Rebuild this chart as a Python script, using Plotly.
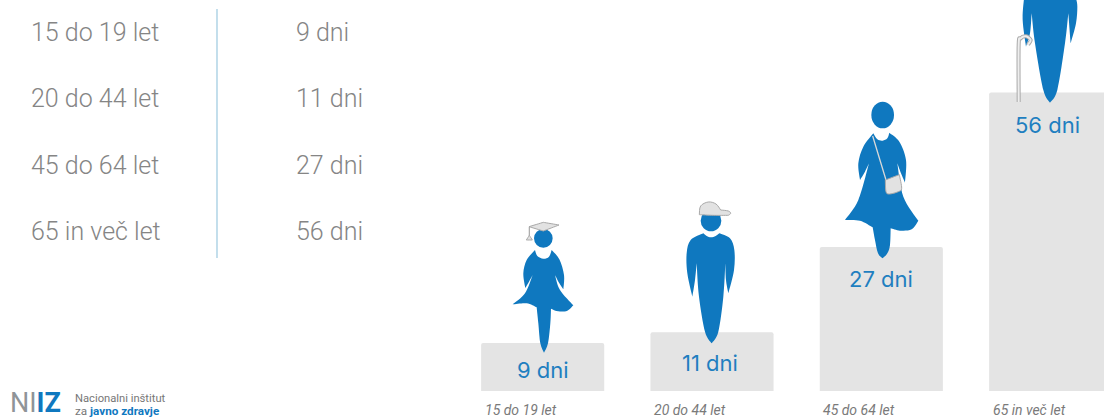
import plotly.graph_objects as go

# ---- data ----
age_groups = ["15 do 19 let", "20 do 44 let", "45 do 64 let", "65 in več let"]
table_ages = ["15 do 19 let", "20 do 44 let", "45 do 64 let", "65 in več let"]
days = [9, 11, 27, 56]
day_labels = ["9 dni", "11 dni", "27 dni", "56 dni"]

W, H = 1104, 417
BLUE = "#0f78bf"
TXT_BLUE = "#1f7fc0"
GREY_BAR = "#e4e4e4"
TABLE_GREY = "#858585"
ACC_FILL = "#e2e2e2"
ACC_LINE = "#a9a9a9"


def px(x, y):
    return x / W, 1 - y / H


def smooth(runs, ox, oy, s=1 / 3, close=True):
    """runs: smooth point runs sharing corner endpoints; returns SVG path in paper coords."""
    def fmt(p):
        x, y = px(ox + p[0] * s, oy + p[1] * s)
        return f"{x:.5f},{y:.5f}"
    d = "M" + fmt(runs[0][0])
    for run in runs:
        n = len(run)
        for i in range(n - 1):
            p0 = run[i - 1] if i > 0 else run[i]
            p1, p2 = run[i], run[i + 1]
            p3 = run[i + 2] if i + 2 < n else run[i + 1]
            c1 = (p1[0] + (p2[0] - p0[0]) / 6, p1[1] + (p2[1] - p0[1]) / 6)
            c2 = (p2[0] - (p3[0] - p1[0]) / 6, p2[1] - (p3[1] - p1[1]) / 6)
            d += f" C{fmt(c1)} {fmt(c2)} {fmt(p2)}"
    return d + (" Z" if close else "")


shapes = []


def fill_path(runs, ox, oy, color=BLUE, line=None, width=0):
    shapes.append(dict(type="path", xref="paper", yref="paper", path=smooth(runs, ox, oy),
                       fillcolor=color, line=dict(color=line or color, width=width)))


def stroke_path(runs, ox, oy, color, width):
    shapes.append(dict(type="path", xref="paper", yref="paper", path=smooth(runs, ox, oy, close=False),
                       line=dict(color=color, width=width)))


def head(cx, cy, rx, ry, ox, oy):
    x0, y1 = px(ox + (cx - rx) / 3, oy + (cy - ry) / 3)
    x1, y0 = px(ox + (cx + rx) / 3, oy + (cy + ry) / 3)
    shapes.append(dict(type="circle", xref="paper", yref="paper", x0=x0, x1=x1, y0=y0, y1=y1,
                       fillcolor=BLUE, line=dict(width=0)))


# Girl with graduation cap (coordinates of a 3x drawing grid)
ox, oy = 480, 200
head(190, 115, 28, 28, ox, oy)
fill_path([
    [(165, 150), (172, 168), (190, 176), (207, 170), (215, 150)],
    [(215, 150), (238, 178), (252, 225), (250, 268)],
    [(250, 268), (238, 250), (225, 225)],
    [(225, 225), (240, 270), (280, 316)],
    [(280, 316), (262, 332), (235, 334), (213, 326)],
    [(213, 326), (211, 370), (204, 430), (192, 458)],
    [(192, 458), (181, 430), (175, 370), (170, 322)],
    [(170, 322), (140, 310), (98, 313)],
    [(98, 313), (135, 280), (158, 225)],
    [(158, 225), (147, 245), (136, 264)],
    [(136, 264), (130, 220), (140, 180), (165, 150)],
], ox, oy)
fill_path([[(147, 80), (190, 67)], [(190, 67), (237, 75)], [(237, 75), (190, 93)], [(190, 93), (147, 80)]],
          ox, oy, ACC_FILL, ACC_LINE, 1)
stroke_path([[(148, 80), (148, 108)]], ox, oy, ACC_LINE, 1.2)
fill_path([[(148, 106), (157, 120)], [(157, 120), (139, 120)], [(139, 120), (148, 106)]], ox, oy, ACC_FILL, ACC_LINE, 1)

# Man with cap
head(693, 62, 31, 32, ox, oy)
fill_path([
    [(670, 100), (680, 108), (693, 112), (707, 108), (718, 100)],
    [(718, 100), (750, 115), (763, 150), (762, 210), (745, 280)],
    [(745, 280), (738, 240), (736, 190)],
    [(736, 190), (730, 290), (715, 395), (695, 430)],
    [(695, 430), (675, 395), (657, 290), (650, 190)],
    [(650, 190), (645, 240), (637, 290)],
    [(637, 290), (622, 220), (620, 160), (632, 120), (670, 100)],
], ox, oy)
fill_path([
    [(658, 44), (662, 18), (685, 6), (708, 12), (722, 30)],
    [(722, 30), (745, 33), (752, 40), (745, 46)],
    [(745, 46), (700, 46), (658, 44)],
], ox, oy, ACC_FILL, ACC_LINE, 1)

# Woman with shoulder bag
ox, oy = 800, 0
head(248, 345, 34, 40, ox, oy)
fill_path([
    [(220, 400), (232, 418), (248, 422), (262, 415), (268, 398)],
    [(268, 398), (298, 425), (318, 480), (315, 548)],
    [(315, 548), (303, 520), (292, 490)],
    [(292, 490), (310, 590), (355, 662)],
    [(355, 662), (335, 688), (300, 692), (272, 685)],
    [(272, 685), (270, 735), (262, 760), (248, 775)],
    [(248, 775), (234, 760), (225, 720), (218, 682)],
    [(218, 682), (180, 662), (135, 660)],
    [(135, 660), (175, 600), (207, 490)],
    [(207, 490), (195, 515), (180, 540)],
    [(180, 540), (175, 490), (190, 440), (220, 400)],
], ox, oy)
stroke_path([[(218, 408), (258, 540)]], ox, oy, "#d8d8d8", 1.3)
fill_path([
    [(256, 540), (298, 524)],
    [(298, 524), (305, 565), (295, 575), (268, 582), (258, 575), (256, 540)],
], ox, oy, ACC_FILL, ACC_LINE, 1)

# Elder with walking stick (cut by the top of the picture)
fill_path([
    [(672, -5), (668, 60), (678, 140)],
    [(678, 140), (690, 100), (695, 40)],
    [(695, 40), (705, 130), (730, 270), (750, 308)],
    [(750, 308), (772, 270), (795, 130), (805, 40)],
    [(805, 40), (812, 130)],
    [(812, 130), (828, 70), (832, 20), (828, -5)],
], ox, oy)
cane = [[(656, 306), (656, 135), (662, 115), (678, 109), (692, 120), (684, 134)]]
stroke_path(cane, ox, oy, ACC_LINE, 4)
stroke_path(cane, ox, oy, "#eeeeee", 2)

# Table divider
x0, y0 = px(217, 9)
x1, y1 = px(217, 258)
shapes.append(dict(type="line", xref="paper", yref="paper", x0=x0, x1=x1, y0=y0, y1=y1,
                   line=dict(color="#9cc9e0", width=1.2)))

annotations = []


def text(x, y, s, size, color, family="Roboto", anchor="left", **font):
    xp, yp = px(x, y)
    annotations.append(dict(xref="paper", yref="paper", x=xp, y=yp, text=s, showarrow=False,
                            xanchor=anchor, yanchor="middle", borderpad=0,
                            font=dict(size=size, color=color, family=family, **font)))


table_rows = zip(table_ages, day_labels, [33, 99, 165, 231])
for age, label, y in table_rows:
    text(30, y, age, 25, TABLE_GREY, weight=300)
    text(295, y, label, 25, TABLE_GREY, weight=300)

# Value labels sit just below each bar top, category captions below the baseline
for cat, label, drop, nudge in zip(age_groups, day_labels, [27, 31, 32, 32], [0, -2, 0, -3]):
    annotations.append(dict(xref="x", yref="y", x=cat, y=days[day_labels.index(label)], yshift=-drop,
                            xshift=nudge, text=label, showarrow=False, xanchor="center", yanchor="middle",
                            font=dict(size=22, color=TXT_BLUE, family="Inter")))
    annotations.append(dict(xref="x", yref="paper", x=cat, xshift=-60, y=1 - 410 / H,
                            text=f"<i>{cat}</i>", showarrow=False, xanchor="left", yanchor="middle",
                            font=dict(size=14, color="#7a7a7a", family="Roboto")))

# Logo
text(9, 403, f"NI<b><span style='color:{BLUE}'>IZ</span></b>", 27, "#8f9498", family="Roboto")
text(74, 398, "Nacionalni inštitut", 11.2, "#777777", family="Roboto")
text(74, 411, f"za <b><span style='color:{BLUE}'>javno zdravje</span></b>", 11.7, "#777777", family="Roboto")

PX_PER_DAY = 5.33
fig = go.Figure(go.Bar(x=age_groups, y=days, width=0.727, marker=dict(color=GREY_BAR, line=dict(width=0)),
                       hoverinfo="skip"))
fig.update_layout(
    width=W, height=H, margin=dict(l=0, r=0, t=0, b=0), showlegend=False,
    paper_bgcolor="white", plot_bgcolor="white", barcornerradius=2,
    xaxis=dict(domain=[458 / W, 1], range=[-0.5, 3.315], visible=False, type="category",
               categoryorder="array", categoryarray=age_groups),
    yaxis=dict(domain=[26 / H, 1], range=[0, 391 / PX_PER_DAY], visible=False),
    shapes=shapes, annotations=annotations,
)
fig.write_html("out.html", post_script="document.body.style.margin='0';",
               config={"displayModeBar": False})
